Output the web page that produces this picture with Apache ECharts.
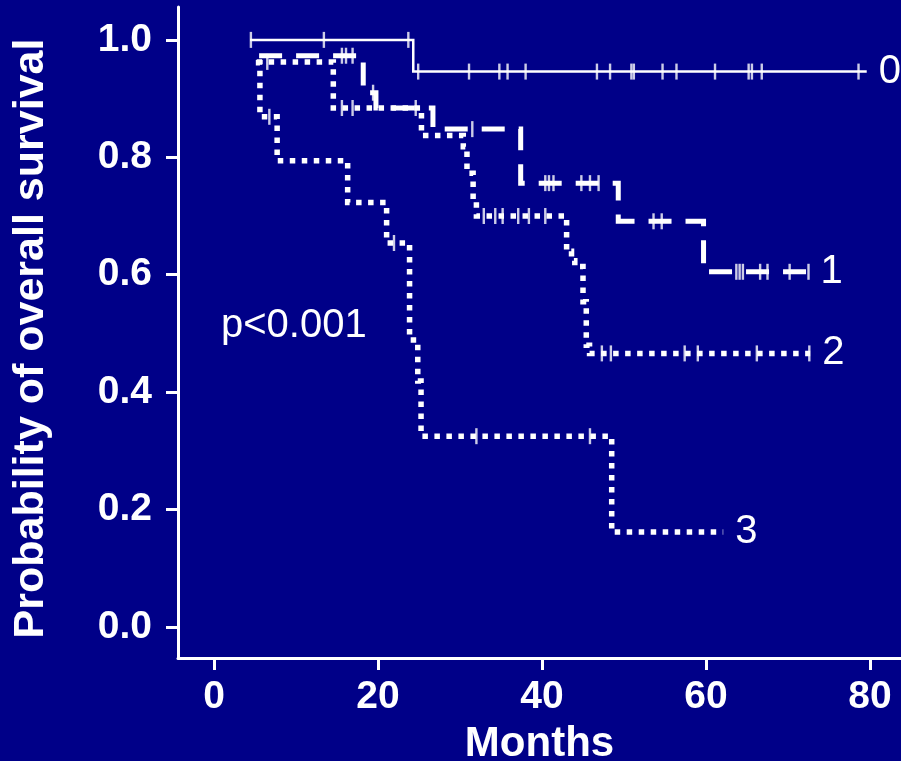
<!DOCTYPE html>
<html>
<head>
<meta charset="utf-8">
<script src="https://cdn.jsdelivr.net/npm/echarts@6/dist/echarts.min.js"></script>
<style>
html,body{margin:0;padding:0;background:#000088;}
#chart{width:901px;height:761px;}
</style>
</head>
<body>
<div id="chart"></div>
<script>
// ---- Data (months, survival probability) ----
const xTicks = [0, 20, 40, 60, 80];
const yTicks = [0, 0.2, 0.4, 0.6, 0.8, 1.0];
const curveNames = ['0', '1', '2', '3'];

// curve 0
const c0Start = [4.4, 1.0];
const c0EventTimes = [24.3];
const c0EventSurv = [0.946];
const c0End = 79.6;
const c0Censor = [4.5, 13.4, 23.7, 24.9, 31.1, 34.8, 35.8, 38.0, 46.7, 48.3, 50.9, 51.2, 54.7, 56.4, 61.1, 65.2, 65.6, 66.8, 78.6];

// curve 1
const c1Start = [5.5, 0.973];
const c1EventTimes = [18.2, 19.75, 26.7, 37.4, 49.3, 59.7];
const c1EventSurv = [0.91, 0.884, 0.848, 0.756, 0.691, 0.605];
const c1End = 72.5;
const c1Censor = [15.6, 16.1, 16.9, 19.4, 31.5, 40.4, 40.85, 41.4, 44.8, 45.85, 46.9, 53.6, 54.6, 63.7, 64.1, 64.5, 66.6, 67.5, 70.2, 72.5];

// curve 2
const c2Start = [5.2, 0.9625];
const c2EventTimes = [14.55, 25.3, 30.4, 30.85, 31.6, 32.0, 43.0, 43.6, 44.0, 45.0, 45.4, 45.8];
const c2EventSurv = [0.884, 0.837, 0.818, 0.773, 0.729, 0.700, 0.64, 0.624, 0.614, 0.554, 0.480, 0.466];
const c2End = 72.7;
const c2Censor = [6.5, 15.6, 16.9, 24.6, 32.9, 34.3, 35.2, 37.1, 38.4, 40.4, 47.3, 48.4, 57.4, 59.0, 66.2, 72.6];

// curve 3
const c3Start = [5.1, 0.961];
const c3EventTimes = [5.6, 7.7, 16.3, 21.05, 23.85, 24.85, 25.25, 48.5];
const c3EventSurv = [0.869, 0.794, 0.723, 0.654, 0.489, 0.419, 0.325, 0.162];
const c3End = 62.1;
const c3Censor = [6.75, 21.95, 32.0, 45.85];

// ---- helpers ----
function stepPath(start, times, surv, end) {
  const pts = [[start[0], start[1]]];
  let cur = start[1];
  for (let i = 0; i < times.length; i++) {
    pts.push([times[i], cur]);
    cur = surv[i];
    pts.push([times[i], cur]);
  }
  pts.push([end, cur]);
  return pts;
}
function survAt(start, times, surv, t) {
  let cur = start[1];
  for (let i = 0; i < times.length; i++) {
    if (t >= times[i]) cur = surv[i];
  }
  return cur;
}
function censorPts(start, times, surv, cens) {
  return cens.map(t => [t, survAt(start, times, surv, t)]);
}

const curves = [
  {s: c0Start, t: c0EventTimes, v: c0EventSurv, e: c0End, c: c0Censor, style: {width: 2.5, type: 'solid'}},
  {s: c1Start, t: c1EventTimes, v: c1EventSurv, e: c1End, c: c1Censor, style: {width: 5, type: [23, 14]}},
  {s: c2Start, t: c2EventTimes, v: c2EventSurv, e: c2End, c: c2Censor, style: {width: 5.5, type: [5.5, 6.5]}},
  {s: c3Start, t: c3EventTimes, v: c3EventSurv, e: c3End, c: c3Censor, style: {width: 5.5, type: [5.5, 6.5]}}
];

const FONT = '"Liberation Sans", Arial, Helvetica, sans-serif';
const series = [];
curves.forEach((cv, i) => {
  series.push({
    type: 'line',
    name: curveNames[i],
    data: stepPath(cv.s, cv.t, cv.v, cv.e),
    showSymbol: false,
    symbol: 'none',
    clip: false,
    lineStyle: {color: '#ffffff', width: cv.style.width, type: cv.style.type, cap: 'butt', join: 'miter'},
    endLabel: {show: true, formatter: curveNames[i], color: '#ffffff', fontSize: 40, fontFamily: FONT, distance: 12},
    z: 2
  });
  series.push({
    type: 'scatter',
    data: censorPts(cv.s, cv.t, cv.v, cv.c),
    symbol: 'rect',
    symbolSize: [2.4, 16],
    itemStyle: {color: '#ffffff'},
    z: 3
  });
});

const chart = echarts.init(document.getElementById('chart'), null, {renderer: 'canvas'});
chart.setOption({
  animation: false,
  backgroundColor: '#000088',
  grid: {left: 178, right: 0, top: 7, bottom: 103, containLabel: false, outerBoundsMode: 'none'},
  xAxis: {
    type: 'value',
    min: -4.39, max: 83.78,
    name: 'Months',
    nameLocation: 'middle',
    nameGap: 65,
    nameTextStyle: {color: '#ffffff', fontSize: 42, fontWeight: 'bold', fontFamily: FONT},
    axisLine: {show: true, onZero: false, lineStyle: {color: '#ffffff', width: 3}},
    axisTick: {show: true, customValues: xTicks, length: 12, lineStyle: {color: '#ffffff', width: 3}},
    axisLabel: {customValues: xTicks, color: '#ffffff', fontSize: 39, fontWeight: 'bold', fontFamily: FONT, margin: 20, formatter: v => String(Math.round(v))},
    splitLine: {show: false}
  },
  yAxis: {
    type: 'value',
    min: -0.0528, max: 1.056,
    name: 'Probability of overall survival',
    nameLocation: 'middle',
    nameGap: 125,
    nameTextStyle: {color: '#ffffff', fontSize: 43, fontWeight: 'bold', fontFamily: FONT, padding: [0, 12, 0, 0]},
    axisLine: {show: true, onZero: false, lineStyle: {color: '#ffffff', width: 3}},
    axisTick: {show: true, customValues: yTicks, length: 12, lineStyle: {color: '#ffffff', width: 3}},
    axisLabel: {customValues: yTicks, color: '#ffffff', fontSize: 39, fontWeight: 'bold', fontFamily: FONT, margin: 26, formatter: v => v.toFixed(1)},
    splitLine: {show: false}
  },
  graphic: [{
    type: 'text',
    left: 221,
    top: 306,
    style: {text: 'p<0.001', fill: '#ffffff', fontSize: 40, fontFamily: FONT}
  }],
  series: series
});
</script>
</body>
</html>
